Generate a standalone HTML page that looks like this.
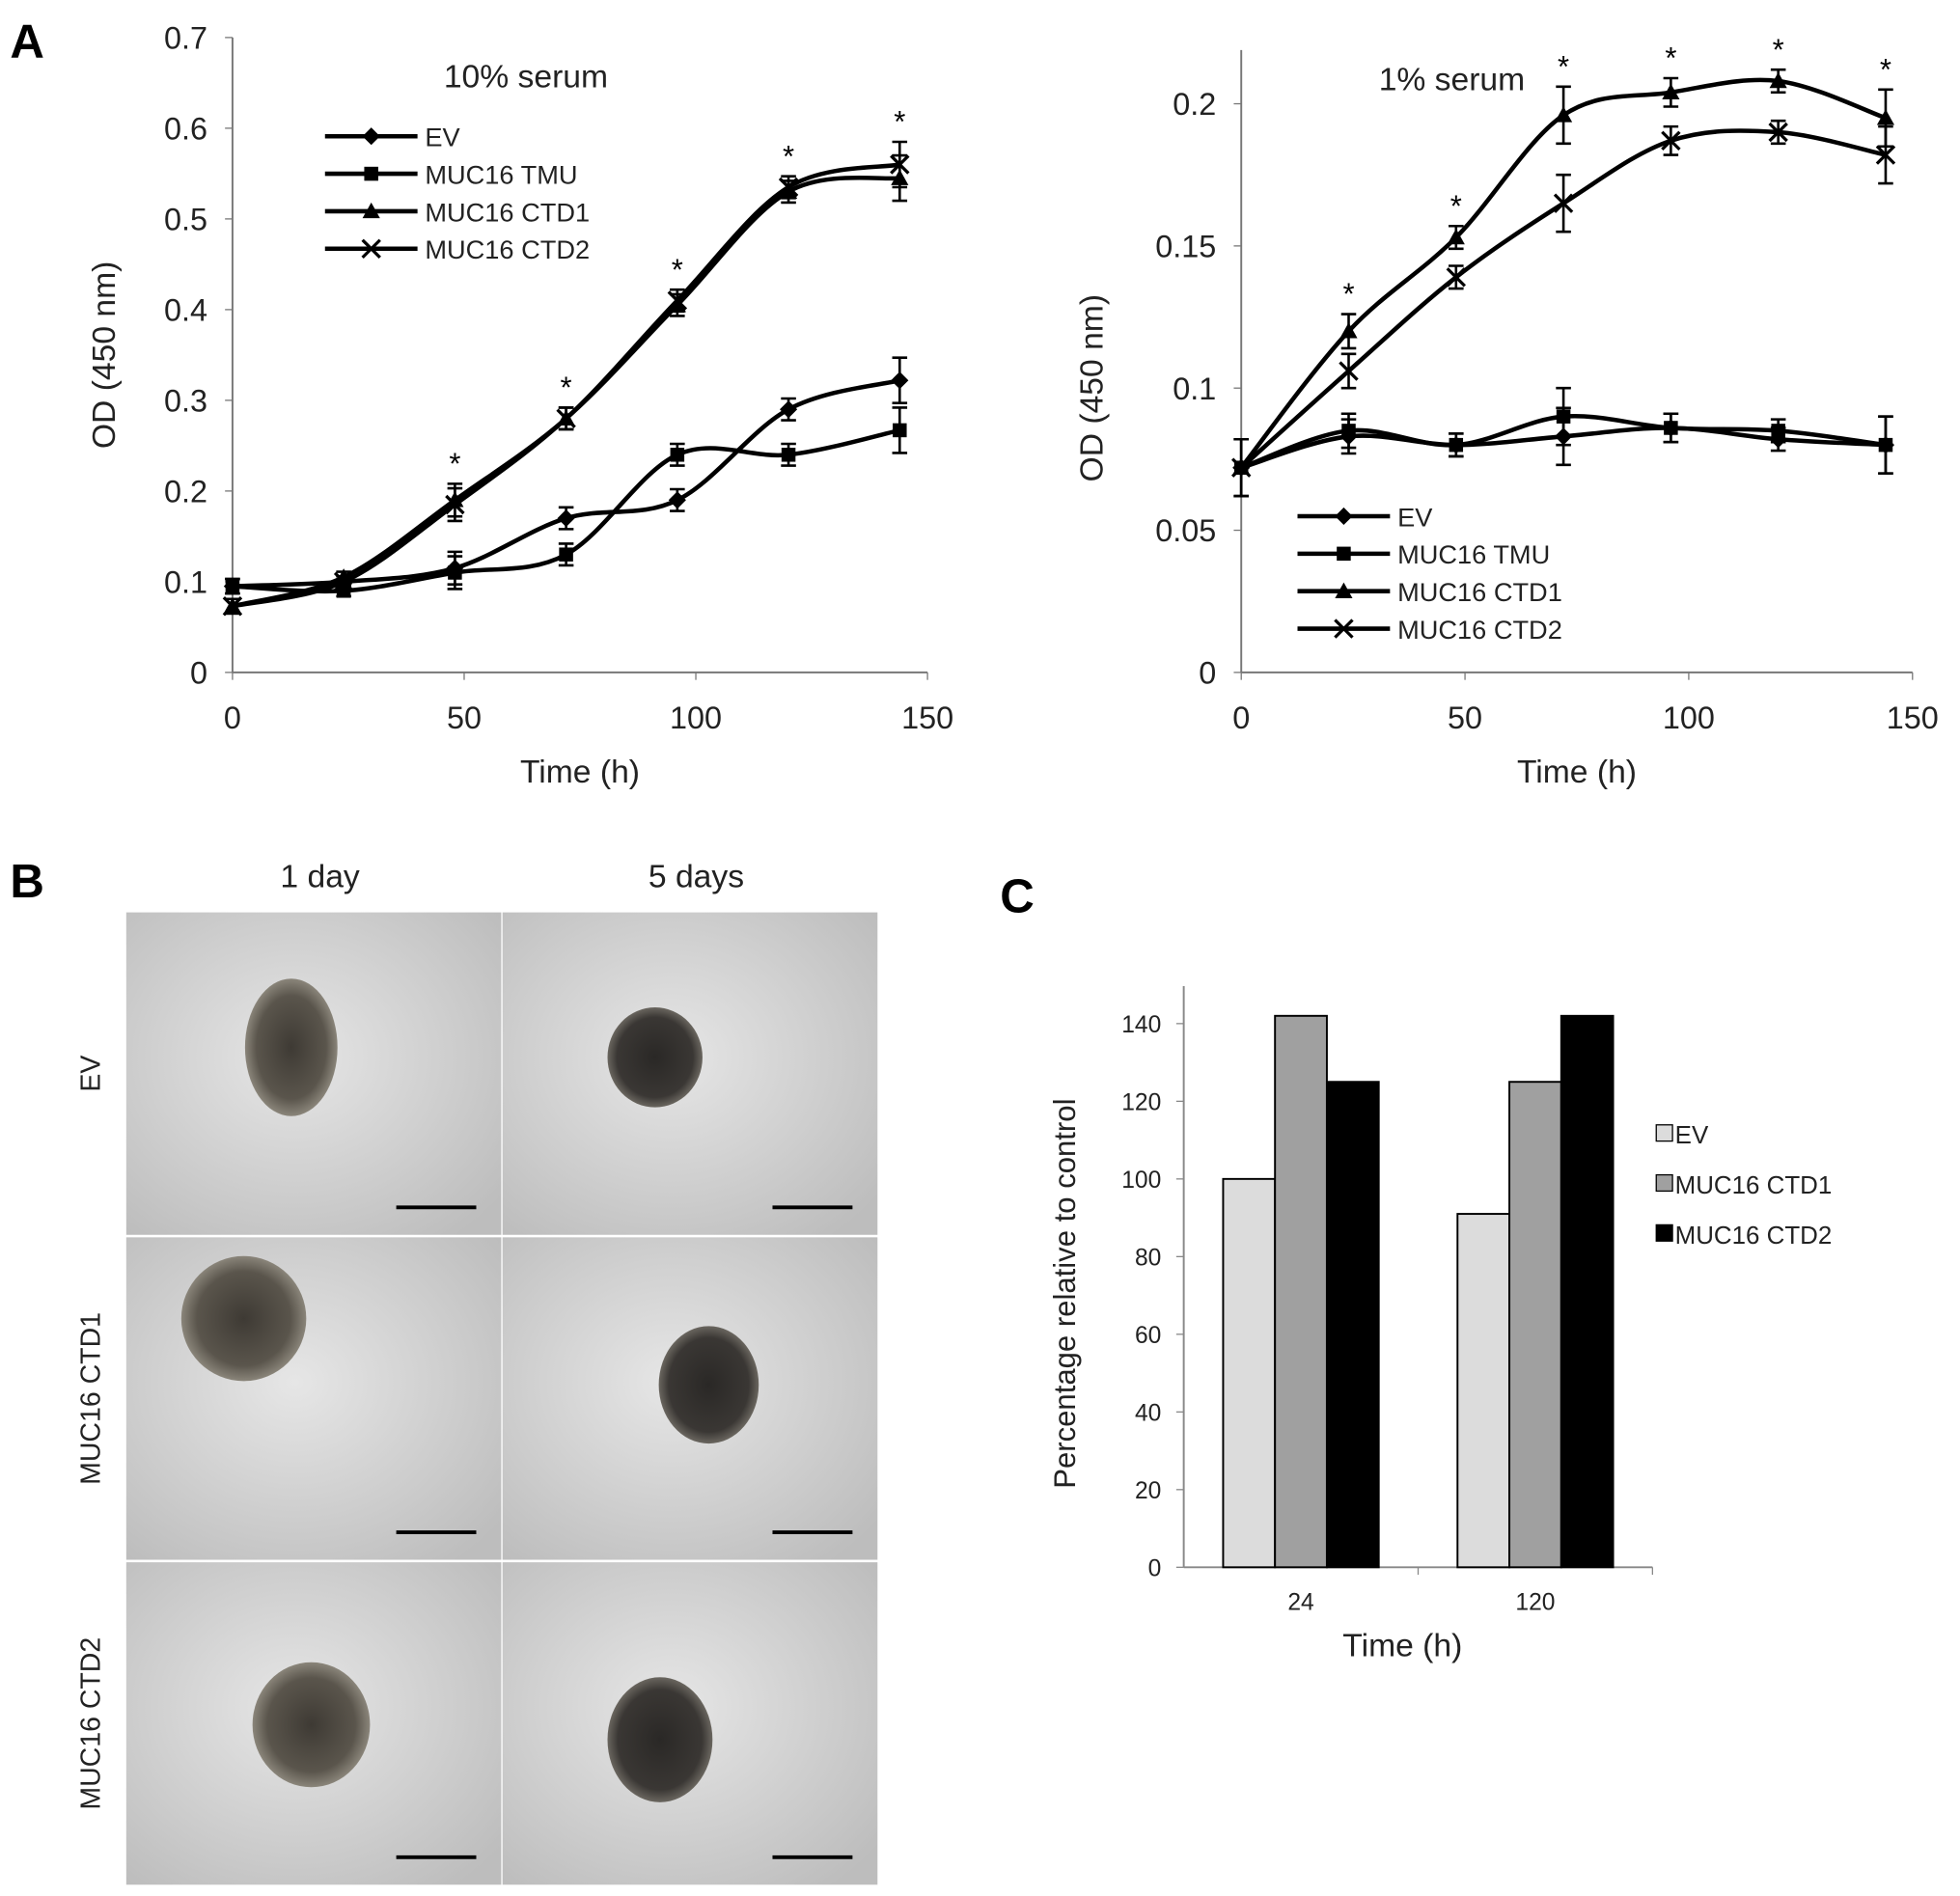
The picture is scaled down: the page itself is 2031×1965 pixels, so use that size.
<!DOCTYPE html>
<html><head><meta charset="utf-8"><style>
html,body{margin:0;padding:0;background:#fff}
svg{display:block;font-family:"Liberation Sans",Arial,sans-serif}
</style></head><body>
<svg id="fig" width="2031" height="1965" viewBox="0 0 1568 1517" xmlns="http://www.w3.org/2000/svg">
<defs>
<radialGradient id="sph1" cx="50%" cy="50%" r="50%"><stop offset="0" stop-color="#3e3a34"/><stop offset="0.75" stop-color="#5a554c"/><stop offset="1" stop-color="#8a857a"/></radialGradient>
<radialGradient id="sph2" cx="50%" cy="50%" r="50%"><stop offset="0" stop-color="#2a2826"/><stop offset="0.8" stop-color="#3a3734"/><stop offset="1" stop-color="#6a665f"/></radialGradient>
<radialGradient id="bg1" cx="45%" cy="45%" r="70%"><stop offset="0" stop-color="#e6e6e6"/><stop offset="1" stop-color="#bdbdbd"/></radialGradient>
</defs>
<text x="8" y="46" font-size="38" font-weight="bold">A</text>
<text x="8" y="718" font-size="38" font-weight="bold">B</text>
<text x="800" y="730" font-size="38" font-weight="bold">C</text>
<g id="chartL"></g>
<g id="chartR"></g>
<g id="photos"></g>
<g id="chartC"></g>
</svg>
<script>
const NS="http://www.w3.org/2000/svg";
const times=[0,24,48,72,96,120,144];
const seriesNames=["EV","MUC16 TMU","MUC16 CTD1","MUC16 CTD2"];
const markers=["diamond","square","triangle","cross"];
// Left chart (10% serum)
const evL=[0.095,0.1,0.115,0.17,0.19,0.29,0.322];
const tmuL=[0.095,0.09,0.11,0.13,0.24,0.24,0.267];
const ctd1L=[0.073,0.105,0.19,0.28,0.405,0.53,0.545];
const ctd2L=[0.073,0.1,0.185,0.28,0.41,0.535,0.56];
const errL=[0.008,0.006,0.018,0.012,0.012,0.012,0.025];
const ticksL=[0,0.1,0.2,0.3,0.4,0.5,0.6,0.7];
const starL=[48,72,96,120,144];
// Right chart (1% serum)
const evR=[0.072,0.083,0.08,0.083,0.086,0.082,0.08];
const tmuR=[0.072,0.085,0.08,0.09,0.086,0.085,0.08];
const ctd1R=[0.072,0.12,0.153,0.196,0.204,0.208,0.195];
const ctd2R=[0.072,0.106,0.139,0.165,0.187,0.19,0.182];
const errR=[0.01,0.006,0.004,0.01,0.005,0.004,0.01];
const ticksR=[0,0.05,0.1,0.15,0.2];
const starR=[24,48,72,96,120,144];
const xTicks=[0,50,100,150];
// Bar chart
const barGroups=["24","120"];
const barSeries=["EV","MUC16 CTD1","MUC16 CTD2"];
const barEV=[100,91];
const barCTD1=[142,125];
const barCTD2=[125,142];
const barTicks=[0,20,40,60,80,100,120,140];
const barColors=["#dcdcdc","#a0a0a0","#000"];

function el(p,tag,a,txt){const e=document.createElementNS(NS,tag);for(const k in a)e.setAttribute(k,a[k]);if(txt!==undefined)e.textContent=txt;p.appendChild(e);return e;}
function smooth(pts){let d="M"+pts[0][0]+","+pts[0][1];for(let i=0;i<pts.length-1;i++){const p0=pts[i-1]||pts[i],p1=pts[i],p2=pts[i+1],p3=pts[i+2]||p2;const c1=[p1[0]+(p2[0]-p0[0])/6,p1[1]+(p2[1]-p0[1])/6],c2=[p2[0]-(p3[0]-p1[0])/6,p2[1]-(p3[1]-p1[1])/6];d+=`C${c1[0]},${c1[1]} ${c2[0]},${c2[1]} ${p2[0]},${p2[1]}`;}return d;}
function marker(g,type,x,y,s){
 if(type==="diamond")return el(g,"polygon",{points:`${x},${y-s} ${x+s},${y} ${x},${y+s} ${x-s},${y}`,fill:"#000"});
 if(type==="square")return el(g,"rect",{x:x-s*0.8,y:y-s*0.8,width:s*1.6,height:s*1.6,fill:"#000"});
 if(type==="triangle")return el(g,"polygon",{points:`${x},${y-s} ${x+s},${y+s*0.8} ${x-s},${y+s*0.8}`,fill:"#000"});
 return el(g,"path",{d:`M${x-s},${y-s}L${x+s},${y+s}M${x-s},${y+s}L${x+s},${y-s}`,stroke:"#000","stroke-width":2.5});
}
function lineChart(g,o){
 const X=v=>o.x0+(v-0)/150*(o.x1-o.x0), Y=v=>o.y0-(v/o.ymax)*(o.y0-o.yTop);
 el(g,"line",{x1:o.x0,y1:o.y0,x2:o.x1,y2:o.y0,stroke:"#777","stroke-width":1.5});
 el(g,"line",{x1:o.x0,y1:o.y0,x2:o.x0,y2:o.axisTop,stroke:"#777","stroke-width":1.5});
 o.ticks.forEach(t=>{el(g,"line",{x1:o.x0-6,y1:Y(t),x2:o.x0,y2:Y(t),stroke:"#777"});const tx=el(g,"text",{x:o.x0-20,y:Y(t)+9,"font-size":25,"text-anchor":"end",fill:"#222"},String(t));});
 xTicks.forEach(t=>{el(g,"line",{x1:X(t),y1:o.y0,x2:X(t),y2:o.y0+6,stroke:"#777"});const tx=el(g,"text",{x:X(t),y:o.y0+45,"font-size":25,"text-anchor":"middle",fill:"#222"},String(t));});
 const xt=el(g,"text",{x:(o.x0+o.x1)/2,y:o.y0+88,"font-size":26,"text-anchor":"middle",fill:"#222"},"Time (h)");
 
 const yt=el(g,"text",{x:0,y:0,"font-size":26,"text-anchor":"middle",fill:"#222",transform:`translate(${o.ytx},${(o.y0+o.yTop)/2}) rotate(-90)`,"xml:space":"preserve"},"OD  (450 nm)");
 
 const tt=el(g,"text",{x:o.titleX,y:o.titleY,"font-size":26,fill:"#222"},o.title);
 
 o.data.forEach((s,i)=>{
  const pts=s.map((v,j)=>[X(times[j]),Y(v)]);
  const p=el(g,"path",{d:smooth(pts),fill:"none",stroke:"#000","stroke-width":3.5});
  
  pts.forEach((pt,j)=>{const e=(o.err[j])/o.ymax*(o.y0-o.yTop);
   el(g,"path",{d:`M${pt[0]},${pt[1]-e}V${pt[1]+e}M${pt[0]-6},${pt[1]-e}H${pt[0]+6}M${pt[0]-6},${pt[1]+e}H${pt[0]+6}`,stroke:"#000","stroke-width":2});
   const m=marker(g,markers[i],pt[0],pt[1],7);});
 });
 o.stars.forEach(t=>{const j=times.indexOf(t);const top=Math.max(o.data[2][j],o.data[3][j]);const s=el(g,"text",{x:X(t),y:Y(top)-o.err[j]/o.ymax*(o.y0-o.yTop)-8,"font-size":24,"text-anchor":"middle"},"*");});
 seriesNames.forEach((n,i)=>{const y=o.legY+i*30;const lg=el(g,"g",{});
  el(lg,"line",{x1:o.legX,y1:y,x2:o.legX+74,y2:y,stroke:"#000","stroke-width":3.5});marker(lg,markers[i],o.legX+37,y,7);
  el(lg,"text",{x:o.legX+80,y:y+8,"font-size":21,fill:"#222"},n);});
}
lineChart(document.getElementById("chartL"),{x0:186,x1:742,y0:538,yTop:30,axisTop:30,ymax:0.7,ticks:ticksL,data:[evL,tmuL,ctd1L,ctd2L],err:errL,stars:starL,ytx:92,title:"10% serum",titleX:355,titleY:70,legX:260,legY:109});
lineChart(document.getElementById("chartR"),{x0:993,x1:1530,y0:538,yTop:83,axisTop:40,ymax:0.2,ticks:ticksR,data:[evR,tmuR,ctd1R,ctd2R],err:errR,stars:starR,ytx:882,title:"1% serum",titleX:1103,titleY:72,legX:1038,legY:413});

// Photos
const ph=document.getElementById("photos");
const rowNames=["EV","MUC16 CTD1","MUC16 CTD2"];const colNames=["1 day","5 days"];
const colX=[101,402],rowY=[730,990,1250],W=300,H=258;
const sph=[[[233,838,37,55,1],[524,846,38,40,2]],[[195,1055,50,50,1],[567,1108,40,47,2]],[[249,1380,47,50,1],[528,1392,42,50,2]]];
colNames.forEach((c,i)=>{const t=el(ph,"text",{x:colX[i]+W/2+5,y:710,"font-size":26,"text-anchor":"middle",fill:"#222"},c);});
rowNames.forEach((r,j)=>{const t=el(ph,"text",{x:0,y:0,"font-size":22,"text-anchor":"middle",fill:"#222",transform:`translate(80,${rowY[j]+H/2}) rotate(-90)`},r);
 colX.forEach((x,i)=>{const cell=el(ph,"g",{});
  el(cell,"rect",{x:x,y:rowY[j],width:W,height:H,fill:"url(#bg1)"});
  const s=sph[j][i];el(cell,"ellipse",{cx:s[0],cy:s[1],rx:s[2],ry:s[3],fill:s[4]===1?"url(#sph1)":"url(#sph2)"});
  el(cell,"line",{x1:x+216,y1:rowY[j]+H-22,x2:x+280,y2:rowY[j]+H-22,stroke:"#000","stroke-width":3});});
});

// Bar chart
const gc=document.getElementById("chartC");
const bx0=947,bx1=1322,by0=1254,byTop=789;const BY=v=>by0-v/140*(1254-819);
el(gc,"line",{x1:bx0,y1:by0,x2:bx1,y2:by0,stroke:"#888","stroke-width":1.5});
el(gc,"line",{x1:bx0,y1:by0,x2:bx0,y2:byTop,stroke:"#888","stroke-width":1.5});
barTicks.forEach(t=>{el(gc,"line",{x1:bx0-6,y1:BY(t),x2:bx0,y2:BY(t),stroke:"#888"});const tx=el(gc,"text",{x:bx0-18,y:BY(t)+7,"font-size":19,"text-anchor":"end",fill:"#222"},String(t));});
const gw=(bx1-bx0)/2,bw=41.5;
const barVals=[barEV,barCTD1,barCTD2];
barGroups.forEach((g,gi)=>{const cx=bx0+gw*(gi+0.5);const t=el(gc,"text",{x:cx,y:by0+34,"font-size":19,"text-anchor":"middle",fill:"#222"},g);
 barVals.forEach((vals,si)=>{const r=el(gc,"rect",{x:cx-1.5*bw+si*bw,y:BY(vals[gi]),width:bw,height:by0-BY(vals[gi]),fill:barColors[si],stroke:"#000","stroke-width":1.5});});});
el(gc,"line",{x1:bx0+gw,y1:by0,x2:bx0+gw,y2:by0+6,stroke:"#888"});el(gc,"line",{x1:bx1,y1:by0,x2:bx1,y2:by0+6,stroke:"#888"});
const cxt=el(gc,"text",{x:1122,y:1325,"font-size":26,"text-anchor":"middle",fill:"#222"},"Time (h)");
const cyt=el(gc,"text",{x:0,y:0,"font-size":24,"text-anchor":"middle",fill:"#222",transform:`translate(860,1035) rotate(-90)`},"Percentage relative to control");
barSeries.forEach((n,i)=>{const y=908+i*40;const lg=el(gc,"g",{});
 el(lg,"rect",{x:1325,y:y-8,width:13,height:13,fill:barColors[i],stroke:"#000","stroke-width":1});
 el(lg,"text",{x:1340,y:y+7,"font-size":20,fill:"#222"},n);});
</script>
</body></html>
